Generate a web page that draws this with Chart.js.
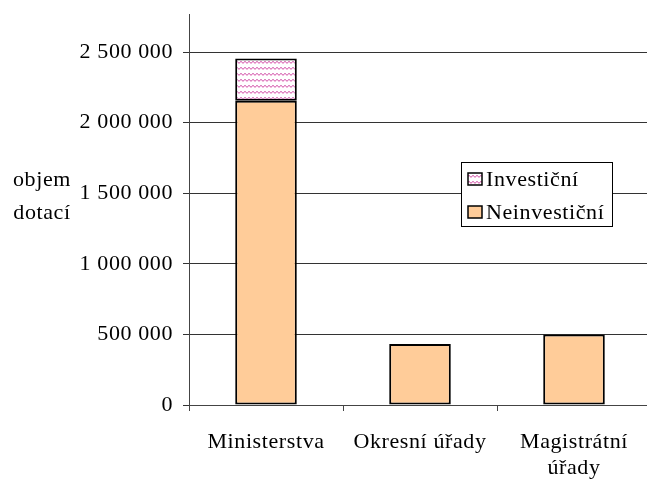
<!DOCTYPE html>
<html>
<head>
<meta charset="utf-8">
<script src="https://cdn.jsdelivr.net/npm/chart.js@4"></script>
<style>
  html, body { margin: 0; padding: 0; background: #fff; overflow: hidden; }
  #wrap { width: 647px; height: 485px; overflow: hidden; }
</style>
</head>
<body>
<div id="wrap"><canvas id="dotace" width="652" height="485"></canvas></div>
<script>
const kategorie = ['Ministerstva', 'Okresní úřady', ['Magistrátní', 'úřady']];
const neinvesticni = [2155000, 432000, 500000];
const investicni = [300000, null, null];
const yTicks = [0, 500000, 1000000, 1500000, 2000000, 2500000];
const yMax = 2770000;

const FONT = 'Liberation Serif';
const FSIZE = 22;
const SPACING = '0.6px';
const peach = '#FFCC99';

// šrafování pro investiční dotace
function makeHatch() {
    const t = document.createElement('canvas');
    t.width = 4; t.height = 6;
    const c = t.getContext('2d');
    c.fillStyle = '#fff';
    c.fillRect(0, 0, 4, 6);
    c.fillStyle = '#de86c2';
    c.fillRect(0, 1, 2, 1);
    c.fillRect(2, 2, 2, 1);
    c.fillStyle = '#f2bfe0';
    c.fillRect(0, 2, 2, 1);
    c.fillRect(2, 3, 2, 1);
    return document.getElementById('dotace').getContext('2d').createPattern(t, 'repeat');
}
const hatch = makeHatch();

const fmt = v => String(v).replace(/\B(?=(\d{3})+(?!\d))/g, ' ');

const spacing = {
    id: 'spacing',
    beforeInit(chart) { chart.ctx.letterSpacing = SPACING; },
    beforeDraw(chart) { chart.ctx.letterSpacing = SPACING; }
};

// nadpis osy y a legenda
const extras = {
    id: 'extras',
    afterDraw(chart) {
        const ctx = chart.ctx;
        ctx.save();
        ctx.letterSpacing = SPACING;
        ctx.fillStyle = '#000';
        ctx.font = FSIZE + 'px ' + FONT;
        ctx.textAlign = 'center';
        ctx.textBaseline = 'middle';
        ctx.fillText('objem', 42, 180);
        ctx.fillText('dotací', 42, 213);

        // legenda
        ctx.fillStyle = '#fff';
        ctx.fillRect(461, 162, 151, 64);
        ctx.strokeStyle = '#000';
        ctx.lineWidth = 1;
        ctx.strokeRect(461.5, 162.5, 151, 64);
        const items = [
            { label: chart.data.datasets[1].label, fill: hatch, y: 179 },
            { label: chart.data.datasets[0].label, fill: peach, y: 212 }
        ];
        ctx.textAlign = 'left';
        items.forEach(it => {
            ctx.fillStyle = it.fill;
            ctx.fillRect(468, it.y - 6, 14, 12);
            ctx.lineWidth = 1.5;
            ctx.strokeRect(468, it.y - 6, 14, 12);
            ctx.fillStyle = '#000';
            ctx.fillText(it.label, 486, it.y + 1);
        });
        ctx.restore();
    }
};

new Chart(document.getElementById('dotace'), {
    type: 'bar',
    data: {
        labels: kategorie,
        datasets: [
            { label: 'Neinvestiční', data: neinvesticni, backgroundColor: peach, borderColor: '#000', borderWidth: 2, borderSkipped: false },
            { label: 'Investiční', data: investicni, backgroundColor: hatch, borderColor: '#000', borderWidth: 2, borderSkipped: false }
        ]
    },
    options: {
        responsive: false,
        animation: false,
        devicePixelRatio: 1,
        layout: { padding: { top: 14, right: 1, left: 0, bottom: 0 } },
        datasets: { bar: { categoryPercentage: 1, barPercentage: 0.4 } },
        plugins: { legend: { display: false }, tooltip: { enabled: false } },
        scales: {
            x: {
                stacked: true,
                grid: { drawOnChartArea: false, drawTicks: true, tickLength: 6, color: '#444', offset: true },
                border: { color: '#444', width: 1 },
                ticks: { color: '#000', font: { family: FONT, size: FSIZE, lineHeight: 1.2 }, padding: 18, maxRotation: 0, autoSkip: false },
                afterFit(s) { s.height = 80; s.paddingLeft = 0; s.paddingRight = 0; }
            },
            y: {
                stacked: true,
                min: 0,
                max: yMax,
                afterBuildTicks(s) { s.ticks = yTicks.map(v => ({ value: v })); },
                grid: { color: '#333', tickLength: 6, lineWidth: 1 },
                border: { color: '#444', width: 1 },
                ticks: { color: '#000', font: { family: FONT, size: FSIZE }, padding: 10, callback: v => fmt(v) },
                afterFit(s) { s.width = 189; s.paddingTop = 0; s.paddingBottom = 0; }
            }
        }
    },
    plugins: [spacing, extras]
});
</script>
</body>
</html>
